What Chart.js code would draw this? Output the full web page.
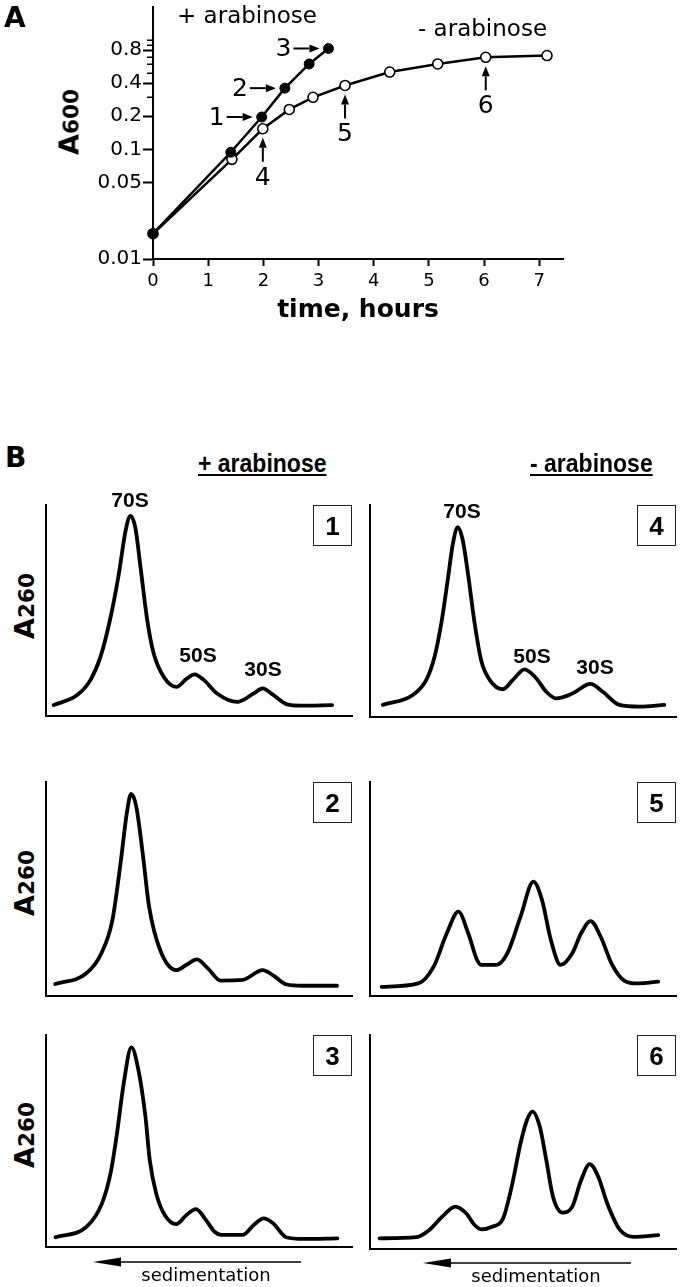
<!DOCTYPE html>
<html><head><meta charset="utf-8">
<script src="https://cdn.jsdelivr.net/npm/chart.js@4.4.1/dist/chart.umd.min.js"></script>
<style>
html,body{margin:0;padding:0;background:#fff;}
#fig{position:relative;width:680px;height:1287px;overflow:hidden;background:#fff;}
#fig canvas{position:absolute;}
.t{position:absolute;white-space:nowrap;line-height:1;color:#000;margin:0;padding:0;}
.box{position:absolute;box-sizing:border-box;border:1px solid #222;display:flex;align-items:center;justify-content:center;font-family:"Liberation Sans",Arial,sans-serif;font-weight:bold;font-size:26px;line-height:1;color:#000;}
svg{position:absolute;left:0;top:0;}
</style></head><body><div id="fig"></div>
<script>
// ---------- Panel A data (growth curves) ----------
const plusTime   = [0, 1.41, 1.97, 2.39, 2.83, 3.18];
const plusA600   = [0.017, 0.094, 0.197, 0.361, 0.60, 0.83];
const minusTime  = [0, 1.43, 1.99, 2.47, 2.90, 3.48, 4.29, 5.16, 6.03, 7.14];
const minusA600  = [0.017, 0.081, 0.154, 0.231, 0.298, 0.382, 0.506, 0.60, 0.69, 0.716];
const timeTicks  = [0, 1, 2, 3, 4, 5, 6, 7];
const a600Ticks  = [0.01, 0.05, 0.1, 0.2, 0.4, 0.8];
const a600Minor  = [0.3, 0.5, 0.6, 0.7, 0.9, 1.0];
const sampleLabels = ['1', '2', '3', '4', '5', '6'];

// ---------- Panel B data (sucrose gradient profiles, position % vs A260 %) ----------
const p1Pos = [2.5, 10.2, 14.5, 17.8, 21.1, 23.8, 26.0, 27.6, 29.2, 30.9, 33.1, 35.2, 38.5, 42.6, 46.1, 48.6, 51.6, 55.9, 62.5, 67.9, 70.8, 73.9, 78.8, 83.2, 93.5];
const p1Abs = [5.2, 9.9, 17.0, 28.0, 46.8, 67.3, 87.7, 94.8, 89.3, 70.4, 45.3, 29.6, 18.5, 13.8, 17.8, 19.7, 17.0, 10.7, 6.7, 10.7, 13.1, 10.4, 5.5, 4.9, 5.2];
const p2Pos = [3.0, 13.2, 18.1, 21.7, 24.5, 26.4, 27.8, 29.5, 31.6, 33.7, 37.3, 42.6, 45.8, 49.3, 52.9, 57.1, 64.2, 70.8, 74.1, 78.4, 84.0, 95.1];
const p2Abs = [5.6, 10.6, 20.0, 35.5, 63.6, 85.4, 94.4, 88.5, 66.7, 41.7, 21.5, 12.1, 14.5, 17.1, 12.9, 7.2, 7.5, 12.1, 9.8, 5.5, 4.8, 4.8];
const p3Pos = [3.1, 13.3, 18.3, 21.1, 23.2, 25.4, 27.9, 30.0, 32.5, 33.9, 36.0, 38.8, 42.6, 45.9, 49.0, 52.3, 55.1, 57.3, 64.3, 67.9, 71.1, 74.2, 78.5, 84.2, 95.2];
const p3Abs = [4.6, 9.6, 20.6, 34.8, 53.6, 77.2, 94.2, 85.0, 61.5, 41.0, 25.3, 15.1, 10.8, 15.1, 17.9, 12.7, 7.2, 5.7, 5.7, 10.4, 13.5, 11.2, 4.6, 3.8, 4.1];
const p4Pos = [4.2, 14.0, 18.4, 21.1, 23.3, 25.4, 27.1, 28.7, 30.3, 32.0, 34.2, 36.3, 39.1, 43.4, 46.7, 50.5, 54.3, 57.6, 60.8, 66.3, 72.0, 76.1, 81.5, 88.1, 96.2];
const p4Abs = [5.7, 10.4, 17.5, 28.4, 44.2, 64.6, 81.9, 89.5, 83.5, 67.8, 44.2, 26.9, 17.5, 13.1, 17.5, 22.5, 18.3, 11.9, 8.8, 11.2, 15.6, 11.9, 5.7, 4.9, 5.7];
const p5Pos = [3.8, 15.8, 20.8, 25.1, 28.9, 32.1, 35.0, 36.4, 41.3, 44.9, 49.2, 53.4, 56.2, 59.1, 62.3, 66.1, 69.0, 72.1, 75.4, 78.9, 83.2, 87.4, 94.2];
const p5Abs = [4.3, 5.9, 13.7, 29.3, 39.4, 29.3, 16.8, 14.5, 14.5, 20.0, 37.1, 53.4, 44.9, 26.2, 14.5, 20.0, 29.3, 35.0, 27.7, 15.3, 7.1, 5.9, 6.7];
const p6Pos = [3.1, 15.1, 19.4, 23.6, 27.9, 31.4, 34.2, 36.4, 39.9, 43.5, 46.3, 49.2, 51.3, 53.1, 55.5, 57.6, 59.8, 62.9, 66.1, 69.0, 71.8, 74.6, 77.5, 81.7, 86.0, 94.2];
const p6Abs = [5.0, 5.5, 8.9, 15.1, 19.8, 16.7, 11.2, 9.2, 10.4, 14.3, 29.1, 49.4, 60.3, 64.2, 57.1, 41.6, 24.4, 17.0, 19.8, 32.2, 39.7, 33.8, 21.4, 8.9, 5.7, 6.5];

// ---------- helpers ----------
const fig = document.getElementById('fig');
const DV = '"DejaVu Sans", sans-serif';
const LIB = '"Liberation Sans", Arial, sans-serif';

function txt(html, x, base, size, opt) {
  opt = opt || {};
  const d = document.createElement('div');
  d.className = 't';
  d.innerHTML = html;
  d.style.fontSize = size + 'px';
  d.style.fontFamily = opt.family || DV;
  d.style.fontWeight = opt.weight || 'normal';
  d.style.top = (base - 0.846 * size) + 'px';
  d.style.left = x + 'px';
  let tf = '';
  if (opt.align === 'center') tf += 'translateX(-50%) ';
  if (opt.sx) { tf += 'scaleX(' + opt.sx + ')'; d.style.transformOrigin = opt.align === 'center' ? '50% 85%' : '0 85%'; }
  if (tf) d.style.transform = tf;
  if (opt.underline) {
    d.style.textDecoration = 'underline';
    d.style.textDecorationThickness = '1.5px';
    d.style.textUnderlineOffset = '2px';
  }
  fig.appendChild(d);
  return d;
}
function rotTitle(main, sub, cx, cy, size) {
  const d = document.createElement('div');
  d.className = 't';
  d.innerHTML = main + '<span style="font-size:0.8em">' + sub + '</span>';
  d.style.fontFamily = DV;
  d.style.fontWeight = 'bold';
  d.style.fontSize = size + 'px';
  d.style.left = cx + 'px';
  d.style.top = cy + 'px';
  d.style.transform = 'translate(-50%,-50%) rotate(-90deg)';
  fig.appendChild(d);
}
function makeCanvas(left, top, w, h) {
  const c = document.createElement('canvas');
  c.width = w; c.height = h;
  c.style.left = left + 'px'; c.style.top = top + 'px';
  c.style.width = w + 'px'; c.style.height = h + 'px';
  fig.appendChild(c);
  return c;
}
function drawArrow(ctx, x1, y1, x2, y2, lw, hl, hw) {
  const ang = Math.atan2(y2 - y1, x2 - x1);
  const hx = x2 - hl * Math.cos(ang), hy = y2 - hl * Math.sin(ang);
  ctx.beginPath(); ctx.moveTo(x1, y1); ctx.lineTo(hx, hy);
  ctx.lineWidth = lw; ctx.stroke();
  ctx.beginPath(); ctx.moveTo(x2, y2);
  ctx.lineTo(hx - hw * Math.sin(ang), hy + hw * Math.cos(ang));
  ctx.lineTo(hx + hw * Math.sin(ang), hy - hw * Math.cos(ang));
  ctx.closePath(); ctx.fill();
}

Chart.defaults.font.family = DV;
Chart.defaults.color = '#000';

// ---------- Panel A ----------
const annots = [
  {label: sampleLabels[0], ds: 0, i: 2, dir: 'left'},
  {label: sampleLabels[1], ds: 0, i: 3, dir: 'left'},
  {label: sampleLabels[2], ds: 0, i: 5, dir: 'left'},
  {label: sampleLabels[3], ds: 1, i: 2, dir: 'up'},
  {label: sampleLabels[4], ds: 1, i: 5, dir: 'up'},
  {label: sampleLabels[5], ds: 1, i: 8, dir: 'up'}
];
const growthDecor = {
  id: 'growthDecor',
  afterDraw(chart) {
    const ctx = chart.ctx, ys = chart.scales.y;
    ctx.save();
    ctx.strokeStyle = '#000'; ctx.fillStyle = '#000';
    ctx.lineWidth = 1.5;
    a600Minor.forEach(v => {
      const y = Math.round(ys.getPixelForValue(v)) + 0.25;
      ctx.beginPath(); ctx.moveTo(ys.right - 6, y); ctx.lineTo(ys.right, y); ctx.stroke();
    });
    ctx.font = '25px ' + DV;
    annots.forEach(a => {
      const pt = chart.getDatasetMeta(a.ds).data[a.i];
      const x = pt.x, y = pt.y;
      if (a.dir === 'left') {
        const tip = x - 9, tail = tip - 26;
        drawArrow(ctx, tail, y, tip, y, 2, 10, 4);
        ctx.textAlign = 'right'; ctx.textBaseline = 'middle';
        ctx.fillText(a.label, tail - 2, y + 1);
      } else {
        const tip = y + 9, tail = tip + 24;
        drawArrow(ctx, x, tail, x, tip, 2, 10, 4);
        ctx.textAlign = 'center'; ctx.textBaseline = 'top';
        ctx.fillText(a.label, x, tail + 4);
      }
    });
    ctx.restore();
  }
};

const cA = makeCanvas(0, 0, 680, 340);
new Chart(cA, {
  type: 'line',
  data: {
    datasets: [
      {
        label: '+ arabinose',
        data: plusTime.map((t, i) => ({x: t, y: plusA600[i]})),
        borderColor: '#000', borderWidth: 2.5,
        pointRadius: 5, pointBackgroundColor: '#000', pointBorderColor: '#000', pointBorderWidth: 1,
        tension: 0, clip: false
      },
      {
        label: '- arabinose',
        data: minusTime.map((t, i) => ({x: t, y: minusA600[i]})),
        borderColor: '#000', borderWidth: 2.5,
        pointRadius: 5, pointBackgroundColor: '#fff', pointBorderColor: '#000', pointBorderWidth: 1.6,
        tension: 0, clip: false
      }
    ]
  },
  options: {
    responsive: false, animation: false, devicePixelRatio: 1,
    layout: {padding: {left: 0, top: 6, right: 117, bottom: 0}},
    plugins: {legend: {display: false}, tooltip: {enabled: false}},
    scales: {
      x: {
        type: 'linear', min: 0, max: 7.43,
        afterBuildTicks: s => { s.ticks = timeTicks.map(v => ({value: v})); },
        ticks: {font: {family: DV, size: 18}, color: '#000', padding: 5, maxRotation: 0, autoSkip: false},
        grid: {drawOnChartArea: false, drawTicks: true, tickLength: 7, tickWidth: 2, tickColor: '#000'},
        border: {display: true, color: '#000', width: 2},
        title: {display: true, text: 'time, hours', color: '#000',
                font: {family: DV, weight: 'bold', size: 25}, padding: {top: 0, bottom: 15}},
        afterFit: s => { s.height = 81; s.paddingLeft = 0; s.paddingRight = 0; }
      },
      y: {
        type: 'logarithmic', min: 0.01, max: 2,
        afterBuildTicks: s => { s.ticks = a600Ticks.map(v => ({value: v})); },
        ticks: {font: {family: DV, size: 20}, color: '#000', padding: 1, autoSkip: false,
                callback: v => String(v)},
        grid: {drawOnChartArea: false, drawTicks: true, tickLength: 10, tickWidth: 2, tickColor: '#000'},
        border: {display: true, color: '#000', width: 2},
        afterFit: s => { s.width = 153; s.paddingTop = 0; s.paddingBottom = 0; }
      }
    }
  },
  plugins: [growthDecor]
});

txt('A', 4, 28, 28, {weight: 'bold'});
txt('+ arabinose', 177, 23, 23);
txt('- arabinose', 418, 36, 23);
rotTitle('A', '600', 69, 122, 27);

// ---------- Panel B ----------
const panels = [
  {pos: p1Pos, abs: p1Abs, L: 46,  T: 505,  W: 306, H: 211, n: '1'},
  {pos: p2Pos, abs: p2Abs, L: 46,  T: 782,  W: 306, H: 214, n: '2'},
  {pos: p3Pos, abs: p3Abs, L: 46,  T: 1035, W: 306, H: 212, n: '3'},
  {pos: p4Pos, abs: p4Abs, L: 370, T: 505,  W: 306, H: 212, n: '4'},
  {pos: p5Pos, abs: p5Abs, L: 370, T: 782,  W: 306, H: 214, n: '5'},
  {pos: p6Pos, abs: p6Abs, L: 370, T: 1035, W: 306, H: 214, n: '6'}
];
const PAD = 5;
panels.forEach(p => {
  const c = makeCanvas(p.L - PAD, p.T - PAD, p.W + 2 * PAD, p.H + 2 * PAD);
  new Chart(c, {
    type: 'line',
    data: {
      datasets: [{
        data: p.pos.map((x, i) => ({x: x, y: p.abs[i]})),
        borderColor: '#000', borderWidth: 3.8, pointRadius: 0,
        cubicInterpolationMode: 'monotone', fill: false,
        borderCapStyle: 'round', borderJoinStyle: 'round', clip: false
      }]
    },
    options: {
      responsive: false, animation: false, devicePixelRatio: 1,
      layout: {padding: PAD},
      plugins: {legend: {display: false}, tooltip: {enabled: false}},
      scales: {
        x: {type: 'linear', min: 0, max: 100, ticks: {display: false}, grid: {display: false},
            border: {display: true, color: '#000', width: 2},
            afterFit: s => { s.height = 0; s.paddingLeft = 0; s.paddingRight = 0; }},
        y: {type: 'linear', min: 0, max: 100, ticks: {display: false}, grid: {display: false},
            border: {display: true, color: '#000', width: 2},
            afterFit: s => { s.width = 0; s.paddingTop = 0; s.paddingBottom = 0; }}
      }
    }
  });
  const b = document.createElement('div');
  b.className = 'box';
  b.textContent = p.n;
  b.style.left = (p.L + p.W - 39) + 'px';
  b.style.top = p.T + 'px';
  b.style.width = '39px'; b.style.height = '41px';
  fig.appendChild(b);
});

txt('B', 5, 468, 28, {weight: 'bold'});
txt('+ arabinose', 198, 472, 25, {family: LIB, weight: 'bold', underline: true, sx: 0.92});
txt('- arabinose', 530, 472, 25, {family: LIB, weight: 'bold', underline: true, sx: 0.92});

// peak labels
txt('70S', 130, 507, 21, {family: LIB, weight: 'bold', align: 'center'});
txt('50S', 198, 662, 21, {family: LIB, weight: 'bold', align: 'center'});
txt('30S', 263, 676, 21, {family: LIB, weight: 'bold', align: 'center'});
txt('70S', 462, 518, 21, {family: LIB, weight: 'bold', align: 'center'});
txt('50S', 532, 663, 21, {family: LIB, weight: 'bold', align: 'center'});
txt('30S', 595, 674, 21, {family: LIB, weight: 'bold', align: 'center'});

rotTitle('A', '260', 24, 606, 27);
rotTitle('A', '260', 24, 883, 27);
rotTitle('A', '260', 24, 1135, 27);

// sedimentation arrows
const NS = 'http://www.w3.org/2000/svg';
const svg = document.createElementNS(NS, 'svg');
svg.setAttribute('width', 680); svg.setAttribute('height', 1287);
[[93, 301, 1262], [423, 631, 1263]].forEach(([x0, x1, y]) => {
  const ln = document.createElementNS(NS, 'line');
  ln.setAttribute('x1', x0 + 20); ln.setAttribute('x2', x1);
  ln.setAttribute('y1', y); ln.setAttribute('y2', y);
  ln.setAttribute('stroke', '#000'); ln.setAttribute('stroke-width', '1.6');
  svg.appendChild(ln);
  const pg = document.createElementNS(NS, 'polygon');
  pg.setAttribute('points', `${x0},${y} ${x0 + 28},${y - 4.5} ${x0 + 28},${y + 4.5}`);
  pg.setAttribute('fill', '#000');
  svg.appendChild(pg);
});
fig.appendChild(svg);
txt('sedimentation', 206, 1281, 18, {align: 'center'});
txt('sedimentation', 536, 1282, 18, {align: 'center'});
</script></body></html>
